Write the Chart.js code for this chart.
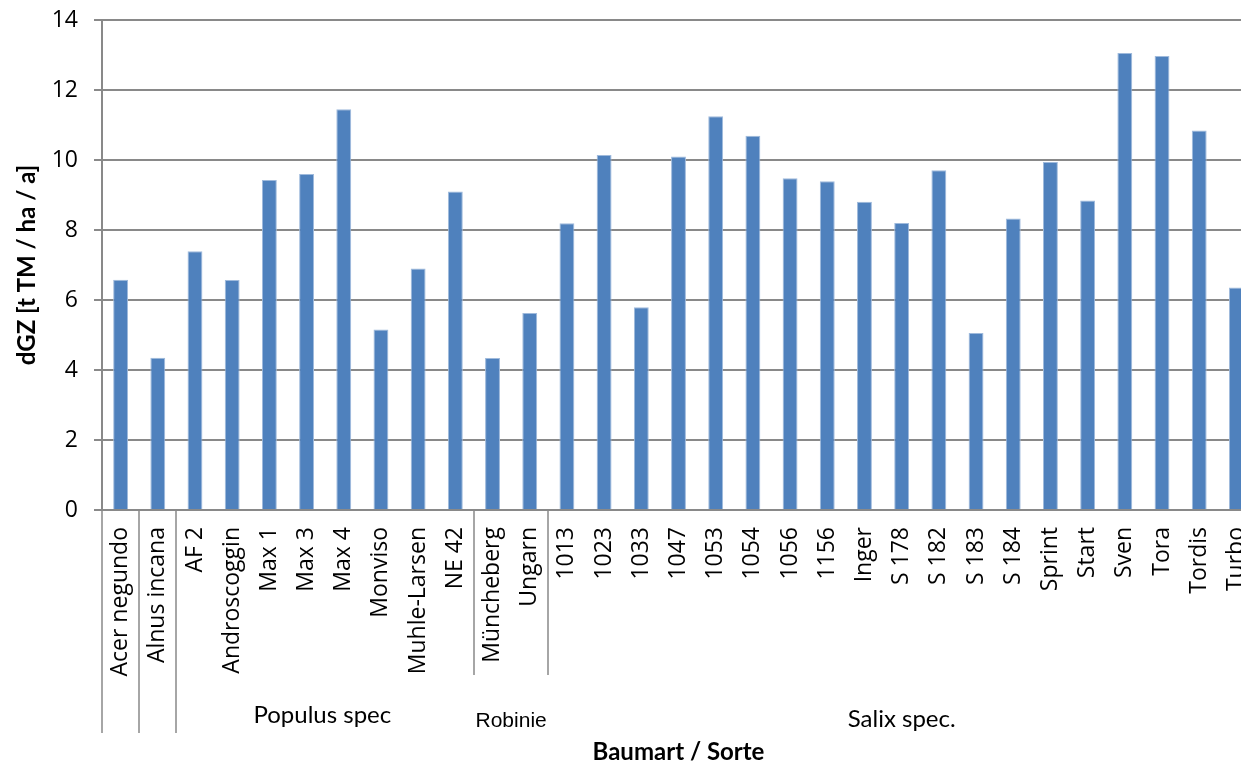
<!DOCTYPE html>
<html>
<head>
<meta charset="utf-8">
<script src="https://cdn.jsdelivr.net/npm/chart.js@4.4.1/dist/chart.umd.min.js"></script>
<style>
  html, body { margin: 0; padding: 0; background: #ffffff; overflow: hidden; }
  #wrap { position: absolute; left: 0; top: 0; width: 1255px; height: 767px; }
</style>
</head>
<body>
<div id="wrap"><canvas id="chart" width="1255" height="767"></canvas></div>
<script>
// Varieties (x axis categories)
const categories = [
  'Acer negundo', 'Alnus incana',
  'AF 2', 'Androscoggin', 'Max 1', 'Max 3', 'Max 4', 'Monviso', 'Muhle-Larsen', 'NE 42',
  'Müncheberg', 'Ungarn',
  '1013', '1023', '1033', '1047', '1053', '1054', '1056', '1156', 'Inger',
  'S 178', 'S 182', 'S 183', 'S 184', 'Sprint', 'Start', 'Sven', 'Tora', 'Tordis', 'Turbo'
];

// Mean annual increment dGZ [t TM / ha / a]
const values = [
  6.58, 4.35,
  7.39, 6.57, 9.43, 9.60, 11.45, 5.16, 6.90, 9.10,
  4.34, 5.63,
  8.19, 10.14, 5.79, 10.10, 11.25, 10.69, 9.48, 9.39, 8.81,
  8.20, 9.71, 5.06, 8.33, 9.94, 8.84, 13.06, 12.97, 10.84, 6.36
];

// Species groups on the second axis level (first and last category index)
const groupNames = ['Populus spec.', 'Robinie', 'Salix spec.'];
const groupFirst = [2, 10, 12];
const groupLast = [9, 11, 30];

// Value axis
const yMin = 0;
const yMax = 14;
const yStep = 2;

const AXIS_GREY = '#898989';

// Draws the species level of the category axis: divider lines and group names
const groupAxis = {
  id: 'groupAxis',
  afterDraw(chart, args, opts) {
    const { ctx, chartArea } = chart;
    const xs = chart.scales.x;
    const w = (xs.right - xs.left) / categories.length;
    const edge = k => Math.round(xs.left + k * w);

    ctx.save();
    ctx.strokeStyle = AXIS_GREY;
    ctx.lineWidth = 1.5;
    ctx.beginPath();
    opts.longDividers.forEach(k => {
      ctx.moveTo(edge(k), chartArea.bottom);
      ctx.lineTo(edge(k), opts.longEnd);
    });
    opts.shortDividers.forEach(k => {
      ctx.moveTo(edge(k), chartArea.bottom);
      ctx.lineTo(edge(k), opts.shortEnd);
    });
    ctx.stroke();

    ctx.fillStyle = '#000000';
    ctx.textBaseline = 'alphabetic';
    ctx.textAlign = 'left';
    groupNames.forEach((name, i) => {
      const style = opts.labels[i];
      ctx.font = style.font;
      const cx = (xs.left + groupFirst[i] * w + xs.left + (groupLast[i] + 1) * w) / 2;
      const full = ctx.measureText(name).width;
      const shown = style.dropDot ? name.replace(/\.$/, '') : name;
      ctx.fillText(shown, cx - full / 2, style.baseline);
    });
    ctx.restore();
  }
};

function draw() {
  new Chart(document.getElementById('chart'), {
    type: 'bar',
    data: {
      labels: categories,
      datasets: [{
        data: values,
        backgroundColor: '#4F81BD',
        borderColor: '#9FBADC',
        borderWidth: 1,
        barPercentage: 0.4,
        categoryPercentage: 1.0
      }]
    },
    options: {
      responsive: false,
      animation: false,
      devicePixelRatio: 1,
      layout: { padding: { top: 20, left: 0, right: 0, bottom: 0 } },
      plugins: {
        legend: { display: false },
        tooltip: { enabled: false },
        groupAxis: {
          longDividers: [0, 1, 2],
          shortDividers: [10, 12],
          longEnd: 733,
          shortEnd: 675,
          labels: [
            { font: '24px Lato', baseline: 723, dropDot: true },
            { font: '21px "Liberation Sans"', baseline: 727, dropDot: false },
            { font: '24px Lato', baseline: 727, dropDot: false }
          ]
        }
      },
      scales: {
        x: {
          offset: true,
          grid: { display: false, drawTicks: false },
          border: { display: true, color: AXIS_GREY, width: 2 },
          ticks: {
            autoSkip: false,
            minRotation: 90,
            maxRotation: 90,
            padding: 17,
            color: '#000000',
            font: { family: '"Open Sans"', size: 23 }
          },
          title: {
            display: true,
            text: 'Baumart / Sorte',
            color: '#000000',
            font: { family: 'Lato', size: 24, weight: 'bold' },
            padding: { top: 0, bottom: 0 }
          },
          afterFit(scale) {
            scale.height = 257;
            scale.paddingLeft = 0;
            scale.paddingRight = 0;
          }
        },
        y: {
          min: yMin,
          max: yMax,
          ticks: {
            stepSize: yStep,
            padding: 16,
            color: '#000000',
            font: { family: '"Open Sans"', size: 23 }
          },
          grid: { color: AXIS_GREY, lineWidth: 2, drawTicks: true, tickLength: 8 },
          border: { display: true, color: AXIS_GREY, width: 2 },
          title: {
            display: true,
            text: 'dGZ [t TM / ha / a]',
            color: '#000000',
            font: { family: 'Lato', size: 24, weight: 'bold' },
            padding: { top: 13, bottom: 0 }
          },
          afterFit(scale) {
            scale.width = 102;
            scale.paddingTop = 0;
            scale.paddingBottom = 0;
          }
        }
      }
    },
    plugins: [groupAxis]
  });
}

const fontLoads = ['23px "Open Sans"', '24px Lato', 'bold 24px Lato', '21px "Liberation Sans"']
  .map(f => document.fonts.load(f));
Promise.all(fontLoads).then(draw, draw);
</script>
</body>
</html>
